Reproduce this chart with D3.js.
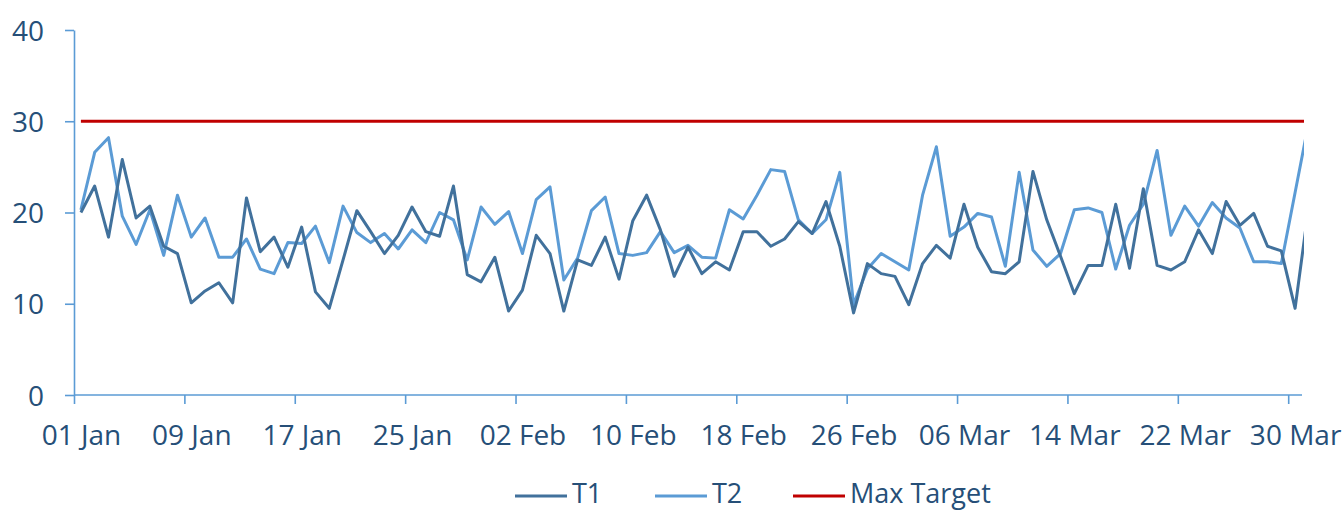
<!DOCTYPE html>
<html>
<head>
<meta charset="utf-8">
<script src="https://cdn.jsdelivr.net/npm/d3@7"></script>
<style>
  body { margin: 0; background: #fff; }
  svg { display: block; font-family: "Open Sans", sans-serif; }
  .axis text { fill: #264f78; font-size: 28px; font-family: "Open Sans", sans-serif; }
  .axis path, .axis line { stroke: #5b9bd5; stroke-width: 1.6; }
</style>
</head>
<body>
<div id="chart"></div>
<script>
// first day of the series (one value per day, 01 Jan .. 31 Mar)
const startDate = new Date(Date.UTC(2021, 0, 1));

const t1 = [
  20.0, 22.9, 17.3, 25.8, 19.4, 20.7, 16.3, 15.5, 10.1, 11.4,
  12.3, 10.1, 21.6, 15.7, 17.3, 14.0, 18.4, 11.3, 9.5, 14.8,
  20.2, 17.9, 15.5, 17.5, 20.6, 17.9, 17.4, 22.9, 13.2, 12.4,
  15.1, 9.2, 11.5, 17.5, 15.5, 9.2, 14.8, 14.2, 17.3, 12.7,
  19.1, 21.9, 18.1, 13.0, 16.2, 13.3, 14.6, 13.7, 17.9, 17.9,
  16.3, 17.1, 19.0, 17.7, 21.2, 16.3, 9.0, 14.4, 13.3, 13.0,
  9.9, 14.4, 16.4, 15.0, 20.9, 16.2, 13.5, 13.3, 14.6, 24.5,
  19.2, 15.2, 11.1, 14.2, 14.2, 20.9, 13.9, 22.6, 14.2, 13.7,
  14.6, 18.1, 15.5, 21.2, 18.6, 19.9, 16.3, 15.8, 9.5, 20.8
];

const t2 = [
  20.3, 26.6, 28.2, 19.6, 16.5, 20.3, 15.3, 21.9, 17.3, 19.4,
  15.1, 15.1, 17.1, 13.8, 13.3, 16.7, 16.6, 18.5, 14.5, 20.7,
  17.8, 16.7, 17.7, 16.0, 18.1, 16.7, 20.0, 19.2, 14.8, 20.6,
  18.7, 20.1, 15.5, 21.4, 22.8, 12.6, 15.0, 20.2, 21.7, 15.5,
  15.3, 15.6, 17.9, 15.6, 16.4, 15.1, 15.0, 20.3, 19.3, 21.9,
  24.7, 24.5, 19.2, 17.7, 19.2, 24.4, 9.9, 13.8, 15.5, 14.6,
  13.7, 21.9, 27.2, 17.4, 18.4, 19.9, 19.5, 14.1, 24.4, 15.9,
  14.1, 15.5, 20.3, 20.5, 20.0, 13.8, 18.6, 20.9, 26.8, 17.5,
  20.7, 18.5, 21.1, 19.4, 18.3, 14.6, 14.6, 14.4, 22.2, 30.0
];

const maxTarget = 30;
const yTicks = [0, 10, 20, 30, 40];
const seriesNames = ['T1', 'T2', 'Max Target'];
const seriesColors = ['#41719c', '#5b9bd5', '#c00000'];

const dates = t1.map((d, i) => d3.utcDay.offset(startDate, i));
const xTicks = dates.filter((d, i) => i % 8 === 0);

const width = 1344, height = 511;
const plot = {left: 74, right: 1304, top: 30, bottom: 395};

const svg = d3.select('#chart')
  .append('svg')
  .attr('width', width)
  .attr('height', height);

// day boundaries on the axis, points sit in the middle of each day
const x = d3.scaleUtc()
  .domain([startDate, d3.utcDay.offset(startDate, 89)])
  .range([plot.left, 1302]);
const halfDay = (x(dates[1]) - x(dates[0])) / 2;
const xc = d => x(d) + halfDay;

const y = d3.scaleLinear()
  .domain([0, 40])
  .range([plot.bottom, plot.top]);

svg.append('defs').append('clipPath')
  .attr('id', 'plot-clip')
  .append('rect')
  .attr('x', plot.left)
  .attr('y', 0)
  .attr('width', plot.right - plot.left)
  .attr('height', plot.bottom + 5);

// Y axis
const yAxis = svg.append('g')
  .attr('class', 'axis')
  .attr('transform', 'translate(' + plot.left + ',0)')
  .call(d3.axisLeft(y).tickValues(yTicks).tickSize(9).tickSizeOuter(0));
yAxis.selectAll('text').attr('dy', '0.36em').attr('text-anchor', 'end').attr('x', -30);

// X axis
const xAxis = svg.append('g')
  .attr('class', 'axis')
  .attr('transform', 'translate(0,' + plot.bottom + ')')
  .call(d3.axisBottom(x).tickValues(xTicks).tickSize(9).tickSizeOuter(0)
    .tickFormat(d3.utcFormat('%d %b')));
xAxis.selectAll('text').attr('x', halfDay).attr('y', 30).attr('dy', '0.71em');
xAxis.select('.domain').attr('d', 'M' + plot.left + ',0H1302');

const lines = svg.append('g').attr('clip-path', 'url(#plot-clip)');

const line = d3.line()
  .x((d, i) => xc(dates[i]))
  .y(d => y(d));

lines.append('path')
  .datum(t2)
  .attr('fill', 'none')
  .attr('stroke', seriesColors[1])
  .attr('stroke-width', 3)
  .attr('stroke-linejoin', 'round')
  .attr('d', line);

lines.append('path')
  .datum(t1)
  .attr('fill', 'none')
  .attr('stroke', seriesColors[0])
  .attr('stroke-width', 3)
  .attr('stroke-linejoin', 'round')
  .attr('d', line);

lines.append('line')
  .attr('x1', xc(dates[0]))
  .attr('x2', xc(dates[dates.length - 1]))
  .attr('y1', y(maxTarget))
  .attr('y2', y(maxTarget))
  .attr('stroke', seriesColors[2])
  .attr('stroke-width', 3);

// legend
const legendX = [515, 655, 793];
const legend = svg.append('g');
seriesNames.forEach((name, i) => {
  legend.append('line')
    .attr('x1', legendX[i]).attr('x2', legendX[i] + 52)
    .attr('y1', 496).attr('y2', 496)
    .attr('stroke', seriesColors[i])
    .attr('stroke-width', 3);
  legend.append('text')
    .attr('x', legendX[i] + 57)
    .attr('y', 503)
    .attr('fill', '#264f78')
    .style('font-size', '27px')
    .text(name);
});
</script>
</body>
</html>
